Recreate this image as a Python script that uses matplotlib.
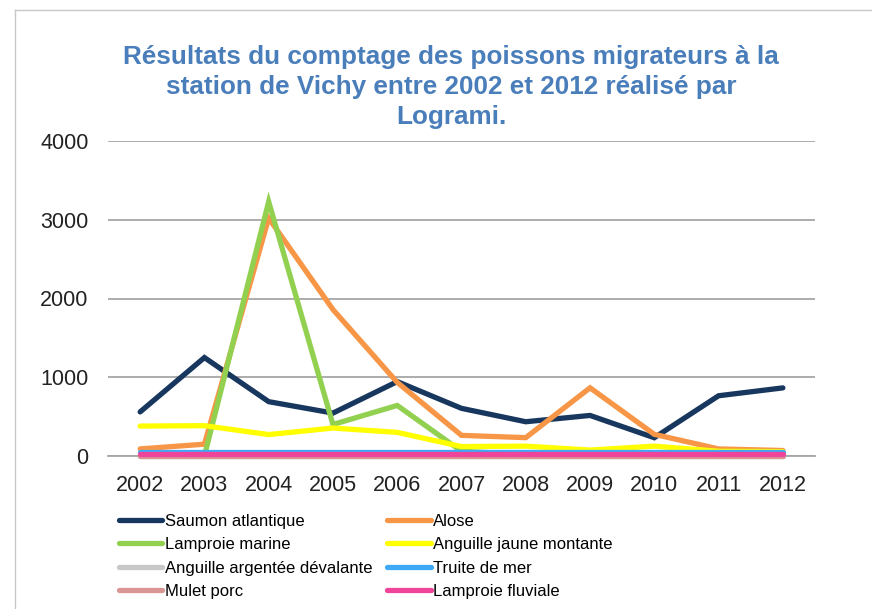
import matplotlib
matplotlib.use("Agg")
import matplotlib.pyplot as plt
from matplotlib.lines import Line2D

plt.rcParams["font.family"] = ["Liberation Sans", "DejaVu Sans"]

# donnees
annees = ["2002", "2003", "2004", "2005", "2006", "2007", "2008", "2009", "2010", "2011", "2012"]
saumon = [560, 1250, 690, 545, 945, 605, 435, 515, 232, 765, 865]
alose = [90, 150, 3020, 1860, 935, 262, 233, 866, 275, 90, 70]
lamproie_marine = [0, 0, 3230, 400, 642, 60, 20, 20, 20, 20, 20]
anguille_jaune = [380, 385, 272, 355, 300, 120, 125, 75, 125, 60, 55]
anguille_argentee = [0, 0, 0, 0, 0, 0, 0, 0, 0, 0, 0]
truite = [55, 55, 55, 55, 55, 55, 55, 55, 55, 55, 55]
mulet = [5, 5, 5, 5, 5, 5, 5, 5, 5, 5, 5]
lamproie_fluviale = [28, 28, 28, 28, 28, 28, 28, 28, 28, 28, 28]

noms = ["Saumon atlantique", "Alose", "Lamproie marine", "Anguille jaune montante",
        "Anguille argentée dévalante", "Truite de mer", "Mulet porc", "Lamproie fluviale"]
series = [saumon, alose, lamproie_marine, anguille_jaune,
          anguille_argentee, truite, mulet, lamproie_fluviale]
couleurs = ["#17375E", "#F79646", "#92D050", "#FFFF00",
            "#C8C8C8", "#3FA9F5", "#D99694", "#F0449A"]

W, H = 872, 609
fig = plt.figure(figsize=(W / 100, H / 100), dpi=100)
ax = fig.add_axes([108 / W, 1 - 456 / H, (815 - 108) / W, (456 - 141) / H])

x = list(range(len(annees)))
lignes = []
for nom, s, c in zip(noms, series, couleurs):
    l, = ax.plot(x, s, color=c, linewidth=3.8, label=nom, solid_capstyle="round",
                 solid_joinstyle="miter", clip_on=False)
    lignes.append(l)

ax.set_xlim(-0.5, len(annees) - 0.5)
ax.set_ylim(0, 4000)
ax.set_yticks([0, 1000, 2000, 3000, 4000])
ax.set_xticks(x)
ax.set_xticklabels(annees)
ax.tick_params(length=0, labelsize=15.5, colors="#222222", pad=14)
ax.tick_params(axis="x", pad=14)
ax.yaxis.grid(True, color="#A6A6A6", linewidth=1.3)
ax.set_axisbelow(True)
for sp in ["top", "right", "left"]:
    ax.spines[sp].set_visible(False)
ax.spines["bottom"].set_color("#A6A6A6")
ax.spines["bottom"].set_linewidth(1.3)
ax.spines["bottom"].set_zorder(0.5)

fig.text(451 / W, 1 - 87 / H,
         "Résultats du comptage des poissons migrateurs à la\n"
         "station de Vichy entre 2002 et 2012 réalisé par\n"
         "Logrami.",
         ha="center", va="center", fontsize=18.8, fontweight="bold",
         color="#4A7EBB", linespacing=1.3)

# legende en deux colonnes (remplie ligne par ligne)
ordre = [0, 2, 4, 6, 1, 3, 5, 7]
fig.legend([lignes[i] for i in ordre], [noms[i] for i in ordre],
           loc="upper left", bbox_to_anchor=(119 / W, 1 - 514 / H), ncol=2,
           frameon=False, fontsize=12, handlelength=2.6, handletextpad=0.15,
           columnspacing=0.9, labelspacing=0.5, borderpad=0, borderaxespad=0)

# cadre du graphique
fig.add_artist(Line2D([15 / W, 1], [1 - 10 / H, 1 - 10 / H], color="#C8C8C8", linewidth=1))
fig.add_artist(Line2D([15 / W, 15 / W], [1 - 10 / H, 0], color="#C8C8C8", linewidth=1))

fig.savefig("out.png", dpi=100)
